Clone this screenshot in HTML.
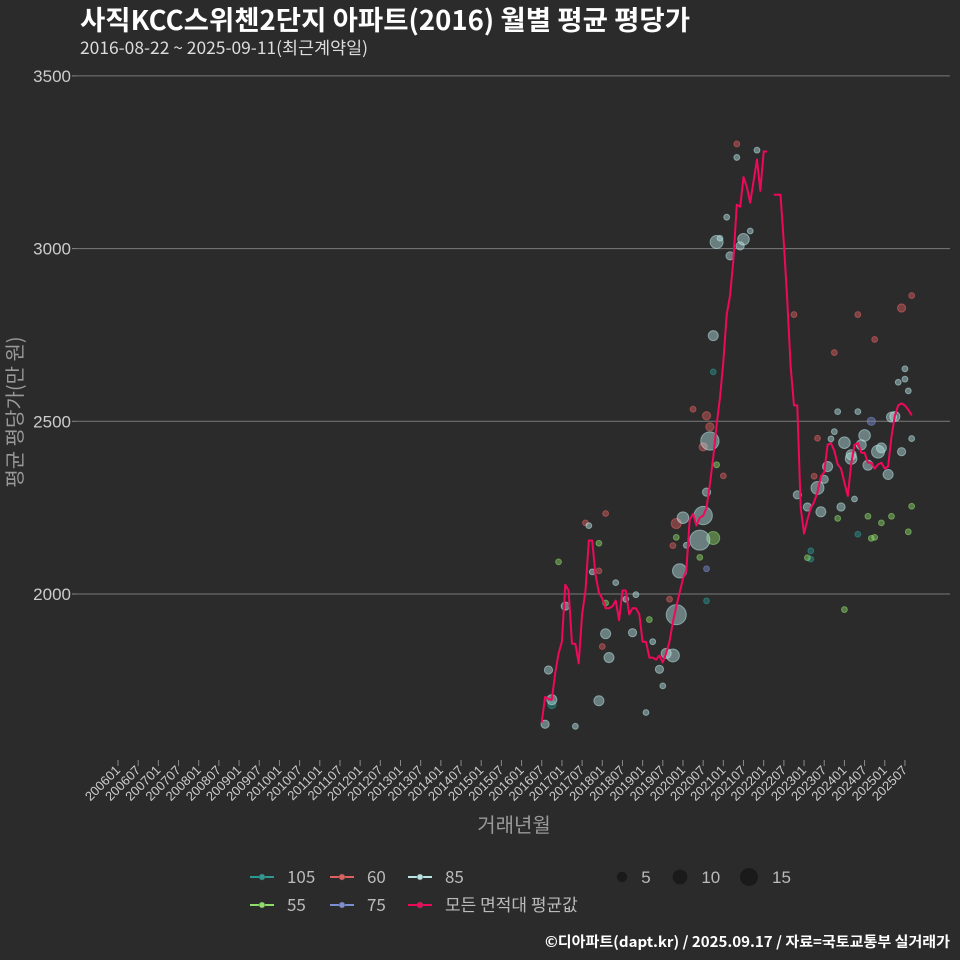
<!DOCTYPE html>
<html><head><meta charset="utf-8">
<style>
html,body{margin:0;padding:0;background:#2b2b2c;}
svg{display:block;font-family:"Liberation Sans","Noto Sans CJK KR",sans-serif;}
</style></head>
<body>
<svg id="chart" width="960" height="960" viewBox="0 0 960 960" xmlns="http://www.w3.org/2000/svg">
<rect x="0" y="0" width="960" height="960" fill="#2b2b2c"/>
<text x="80" y="30" fill="#ffffff" font-size="27" font-weight="bold" font-family="Noto Sans CJK KR, sans-serif" textLength="610" lengthAdjust="spacingAndGlyphs">사직KCC스위첸2단지 아파트(2016) 월별 평균 평당가</text>
<text x="80" y="54" fill="#dddddd" font-size="17" font-family="Noto Sans CJK KR, sans-serif" textLength="288" lengthAdjust="spacingAndGlyphs">2016-08-22 ~ 2025-09-11(최근계약일)</text>
<g id="grid"></g>
<g id="bubbles"></g>
<g id="lineg"></g>
<g id="xaxis"></g>
<text transform="translate(22,412) rotate(-90)" text-anchor="middle" fill="#999999" font-size="20" font-family="Noto Sans CJK KR, sans-serif">평균 평당가(만 원)</text>
<text x="514" y="832" text-anchor="middle" fill="#999999" font-size="20" font-family="Noto Sans CJK KR, sans-serif">거래년월</text>
<g id="legend"></g>
<text x="950" y="947" text-anchor="end" fill="#ffffff" font-size="14.5" font-weight="bold" font-family="Noto Sans CJK KR, sans-serif" textLength="405" lengthAdjust="spacingAndGlyphs">©디아파트(dapt.kr) / 2025.09.17 / 자료=국토교통부 실거래가</text>
</svg>
<script>
// ---- data ----
const yTicks = [2000, 2500, 3000, 3500];
const xTickLabels = [];
for (let y = 2006; y <= 2025; y++) { xTickLabels.push(y + "01"); xTickLabels.push(y + "07"); }
const lineStart1 = "201607";
const lineValues1 = [1628,1702,1696,1693,1771,1828,1862,2027,2010,1856,1856,1799,1941,2010,2155,2155,2056,2004,1987,1959,1959,1964,1981,1924,2010,2010,1941,1959,1959,1941,1862,1862,1816,1816,1810,1822,1802,1828,1862,1919,1964,2004,2044,2067,2215,2232,2198,2221,2227,2249,2318,2397,2489,2569,2671,2808,2865,2968,3127,3121,3207,3178,3133,3196,3258,3167,3281,3281];
const lineStart2 = "202204";
const lineValues2 = [3156,3156,3156,3013,2854,2660,2546,2546,2249,2175,2215,2249,2266,2295,2341,2352,2432,2437,2415,2375,2363,2323,2284,2375,2432,2437,2409,2409,2380,2380,2363,2375,2380,2363,2369,2455,2517,2546,2552,2546,2534,2517];
const seriesNames = ["105","60","85","55","75"];
const seriesColors = {"105":"#2a9a92","60":"#e06060","85":"#b8e4e4","55":"#8fdc6a","75":"#7c8fd0"};
const months85 = ["201608","201610","201609","201702","201705","201709","201710","201712","201802","201803","201805","201808","201810","201811","201902","201904","201906","201907","201908","201910","201911","201912","202001","202002","202006","202007","202008","202009","202010","202011","202012","202102","202103","202106","202107","202109","202105","202111","202211","202302","202305","202306","202307","202308","202309","202310","202311","202312","202401","202403","202403","202404","202405","202406","202407","202408","202411","202412","202502","202503","202504","202506","202505","202507","202507","202508","202509"];
const values85 = [1623,1694,1780,1965,1617,2198,2064,1691,1885,1816,2033,1985,1888,1998,1657,1862,1782,1734,1828,1822,1940,2067,2221,2141,2156,2227,2295,2443,2748,3019,3030,3091,2979,3008,3027,3051,3264,3285,2287,2252,2307,2238,2332,2369,2449,2470,2528,2252,2438,2392,2403,2275,2528,2432,2459,2373,2412,2423,2346,2512,2514,2412,2613,2652,2622,2588,2450];
const counts85 = [2,3,2,2,1,1,1,3,3,3,1,1,2,1,1,1,2,1,3,5,12,6,4,1,12,10,2,10,3,5,1,1,2,2,4,1,1,1,2,2,5,3,2,3,1,1,1,2,4,4,3,1,1,3,4,3,5,3,3,3,3,2,1,1,1,1,1];
const months60 = ["201708","201802","201712","201801","201909","201910","201911","202004","202007","202008","202009","202101","202105","202210","202304","202305","202310","202405","202410","202506","202509"];
const values60 = [2206,2233,2067,1848,1985,2140,2204,2535,2426,2516,2484,2342,3303,2809,2341,2451,2699,2809,2737,2828,2864];
const counts60 = [1,1,1,1,1,1,3,1,2,2,2,1,1,1,1,1,1,1,1,2,1];
const months55 = ["201612","201712","201802","201903","201911","202006","202010","202011","202302","202311","202401","202408","202409","202410","202412","202503","202508","202509"];
const values55 = [2093,2147,1974,1926,2164,2106,2162,2374,2105,2219,1955,2225,2161,2164,2206,2225,2180,2254];
const counts55 = [1,1,1,1,1,1,5,1,1,1,1,1,1,1,1,1,1,1];
const months75 = ["202008","202409"];
const values75 = [2073,2500];
const counts75 = [1,2];
const months105 = ["201610","202010","202008","202303","202303","202405"];
const values105 = [1680,2643,1980,2125,2101,2173];
const counts105 = [2,1,1,1,1,1];
const sizeLegend = [5,10,15];

// ---- scales ----
const NS = "http://www.w3.org/2000/svg";
function mIdx(s){ return (parseInt(s.slice(0,4))-2006)*12 + parseInt(s.slice(4,6))-1; }
function xScale(s){ return 118 + mIdx(s)*3.363; }
function xIdx(i){ return 118 + i*3.363; }
function yScale(v){ return 594 - (v-2000)*0.3454; }
function rScale(c){ return 2.9*Math.sqrt(c); }
function mk(tag, attrs, parent){ const e=document.createElementNS(NS,tag); for(const k in attrs) e.setAttribute(k,attrs[k]); parent.appendChild(e); return e; }

// grid + y labels
const grid = document.getElementById('grid');
yTicks.forEach(t=>{
  const l = mk('line',{x1:76,x2:950,y1:yScale(t),y2:yScale(t),stroke:'#7a7a7a','stroke-width':1},grid);
  
  
  const tk = mk('line',{x1:72,x2:76,y1:yScale(t),y2:yScale(t),stroke:'#888','stroke-width':1},grid);
  
  
  const tx = mk('text',{x:71,y:yScale(t)+6,'text-anchor':'end',fill:'#cccccc','font-size':17},grid);
  
  
  tx.textContent = t;
});

// x axis
const xa = document.getElementById('xaxis');
xTickLabels.forEach(lbl=>{
  const x = xScale(lbl);
  const tk = mk('line',{x1:x,x2:x,y1:760,y2:766,stroke:'#888','stroke-width':1},xa);
  
  
  const tx = mk('text',{transform:`translate(${x+3},${771}) rotate(-45)`,'text-anchor':'end',fill:'#cccccc','font-size':13},xa);
  
  
  tx.textContent = lbl;
});

// bubbles
const bg = document.getElementById('bubbles');
function drawSeries(name, months, values, counts){
  months.forEach((m,i)=>{
    const c = mk('circle',{cx:xScale(m),cy:yScale(values[i]),r:rScale(counts[i]),fill:seriesColors[name],'fill-opacity':0.45,stroke:seriesColors[name],'stroke-opacity':0.55,'stroke-width':1},bg);
    
    
  });
}
drawSeries("105",months105,values105,counts105);
drawSeries("60",months60,values60,counts60);
drawSeries("55",months55,values55,counts55);
drawSeries("75",months75,values75,counts75);
drawSeries("85",months85,values85,counts85);

// average line
const lg = document.getElementById('lineg');
function drawLine(start, vals){
  const s = mIdx(start);
  const pts = vals.map((v,i)=>xIdx(s+i).toFixed(1)+','+yScale(v).toFixed(1)).join(' ');
  const p = mk('polyline',{points:pts,fill:'none',stroke:'#f0085a','stroke-width':2,'stroke-linejoin':'round'},lg);
  
  
}
drawLine(lineStart1,lineValues1);
drawLine(lineStart2,lineValues2);

// legend
const leg = document.getElementById('legend');
const legItems = [["105",262,877],["60",342,877],["85",420,877],["55",262,905],["75",342,905],["avg",420,905]];
legItems.forEach(([n,x,y])=>{
  const col = n==="avg" ? "#f0085a" : seriesColors[n];
  const g = mk('g',{},leg);
  
  
  mk('line',{x1:x-12,x2:x+12,y1:y,y2:y,stroke:col,'stroke-width':2},g);
  mk('circle',{cx:x,cy:y,r:3,fill:col,stroke:'#555','stroke-width':0.5},g);
  const t = mk('text',{x:x+25,y:y+6,fill:'#bbbbbb','font-size':17,'font-family':'Noto Sans CJK KR, sans-serif'},g);
  t.textContent = n==="avg" ? "모든 면적대 평균값" : n;
});
const sizeX = [622,680,749];
sizeLegend.forEach((s,i)=>{
  const g = mk('g',{},leg);
  
  
  mk('circle',{cx:sizeX[i],cy:877,r:rScale(s)*0.8,fill:'#1a1a1a'},g);
  const t = mk('text',{x:sizeX[i]+rScale(s)*0.8+14,y:883,fill:'#bbbbbb','font-size':17},g);
  t.textContent = s;
});
</script>
</body></html>
